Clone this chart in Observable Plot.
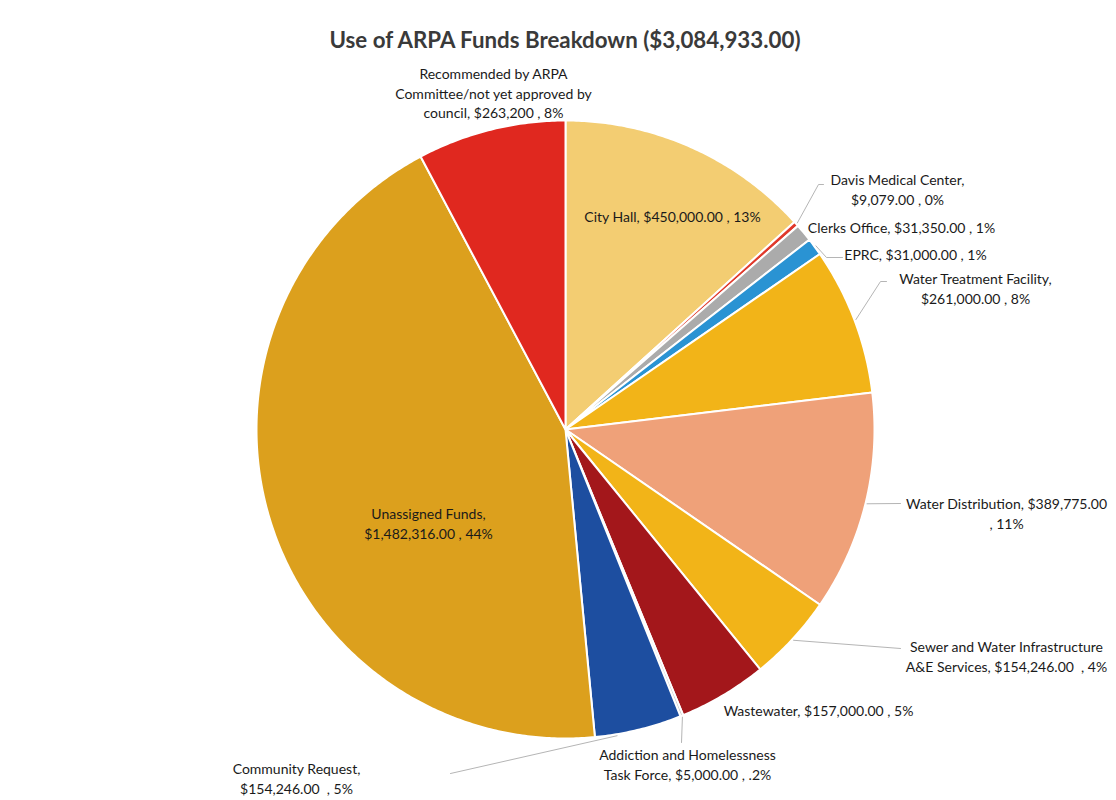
<!DOCTYPE html>
<html><head><meta charset="utf-8">
<script src="https://cdn.jsdelivr.net/npm/d3@7"></script>
<script src="https://cdn.jsdelivr.net/npm/@observablehq/plot@0.6"></script>
<style>
body{margin:0;background:#fff;}
#title{height:62px;width:1116px;box-sizing:border-box;padding-left:14px;padding-top:26px;text-align:center;font-family:Lato,"Open Sans",sans-serif;font-weight:700;font-size:22.3px;color:#3a3a3a;line-height:28px;}
#chart svg{display:block;}
</style></head><body>
<div id="title">Use of ARPA Funds Breakdown ($3,084,933.00)</div>
<div id="chart"></div>
<script>
// ---- data (clockwise from 12 o'clock) ----
const categories = ["City Hall","Davis Medical Center","Clerks Office","EPRC","Water Treatment Facility","Water Distribution","Sewer and Water Infrastructure A&E Services","Wastewater","Addiction and Homelessness Task Force","Community Request","Unassigned Funds","Recommended by ARPA Committee/not yet approved by council"];
const amounts = [450000, 9079, 31350, 31000, 261000, 389775, 154246, 157000, 5000, 154246, 1482316, 263200];
const amountLabels = ["$450,000.00","$9,079.00","$31,350.00","$31,000.00","$261,000.00","$389,775.00","$154,246.00","$157,000.00","$5,000.00","$154,246.00","$1,482,316.00","$263,200"];
const percentLabels = ["13%","0%","1%","1%","8%","11%","4%","5%",".2%","5%","44%","8%"];
const labelTexts = [
  "City Hall, $450,000.00 , 13%",
  "Davis Medical Center,\n$9,079.00 , 0%",
  "Clerks Office, $31,350.00 , 1%",
  "EPRC, $31,000.00 , 1%",
  "Water Treatment Facility,\n$261,000.00 , 8%",
  "Water Distribution, $389,775.00\n, 11%",
  "Sewer and Water Infrastructure\nA&E Services, $154,246.00  , 4%",
  "Wastewater, $157,000.00 , 5%",
  "Addiction and Homelessness\nTask Force, $5,000.00 , .2%",
  "Community Request,\n$154,246.00  , 5%",
  "Unassigned Funds,\n$1,482,316.00 , 44%",
  "Recommended by ARPA\nCommittee/not yet approved by\ncouncil, $263,200 , 8%"
];

// ---- styles ----
const colors = ["#F3CD72","#E0392B","#ABABAB","#2A93D3","#F2B418","#EFA179","#F2B418","#A3171B","#C9C9C9","#1D4EA0","#DCA01D","#E0281F"];

// ---- layout (page pixels) ----
const W = 1116, TOP = 62, H = 800 - TOP;
const CX = 565, CY = 429, R = 309;
// label block centers
const labelPos = [
  [672,215],[897,188],[901,226],[915,253],[975,287],[1006,512],[1006,655],[818,709],[687,763],[296,777],[428,522],[493,92]
];
// leader lines: [fraction within slice, elbow, end] (null = none)
const leaders = [
  null,
  {f:0.5, pts:[[818,184],[823,184]]},
  null,
  {f:0.5, pts:[[826,257],[842,257]]},
  {f:0.5, pts:[[880,281],[886,281]]},
  {f:0.5, pts:[[900,503]]},
  {f:0.5, pts:[[900,648]]},
  null,
  {f:0.5, pts:[[681,742]]},
  {f:0.75, pts:[[450,773]]},
  null,
  null
];

const toX = px => (px - CX) / R;
const toY = py => (CY - py) / R;

const rows = categories.map((name, i) => ({name, amount: amounts[i], i}));
const arcs = d3.pie().sort(null).value(d => d.amount)(rows);

const poly = [];
for (const a of arcs) {
  const n = Math.max(2, Math.ceil((a.endAngle - a.startAngle) / (Math.PI / 360)));
  poly.push({name: a.data.name, x: 0, y: 0});
  for (let k = 0; k <= n; k++) {
    const t = a.startAngle + (a.endAngle - a.startAngle) * k / n;
    poly.push({name: a.data.name, x: Math.sin(t), y: Math.cos(t)});
  }
  poly.push({name: a.data.name, x: 0, y: 0});
}

const labels = arcs.map((a, i) => ({text: labelTexts[i], x: toX(labelPos[i][0]), y: toY(labelPos[i][1])}));

const leaderPts = [];
arcs.forEach((a, i) => {
  const L = leaders[i];
  if (!L) return;
  const t = a.startAngle + (a.endAngle - a.startAngle) * L.f;
  leaderPts.push({k: i, x: Math.sin(t) * 1.005, y: Math.cos(t) * 1.005});
  for (const p of L.pts) leaderPts.push({k: i, x: toX(p[0]), y: toY(p[1])});
});

const chart = Plot.plot({
  width: W, height: H,
  margin: 0,
  x: {domain: [toX(0), toX(W)], axis: null},
  y: {domain: [toY(TOP + H), toY(TOP)], axis: null},
  color: {domain: categories, range: colors},
  style: {fontFamily: "Lato, 'Open Sans', sans-serif"},
  marks: [
    Plot.line(poly, {x: "x", y: "y", z: "name", fill: "name", stroke: "white", strokeWidth: 2, strokeLinejoin: "round", curve: "linear"}),
    Plot.line(leaderPts, {x: "x", y: "y", z: "k", stroke: "#b5b5b5", strokeWidth: 1}),
    Plot.text(labels, {x: "x", y: "y", text: "text", fontSize: 14, lineHeight: 1.4, fill: "#1a1a1a", textAnchor: "middle", lineAnchor: "middle"})
  ]
});
document.getElementById("chart").append(chart);
</script>
</body></html>
